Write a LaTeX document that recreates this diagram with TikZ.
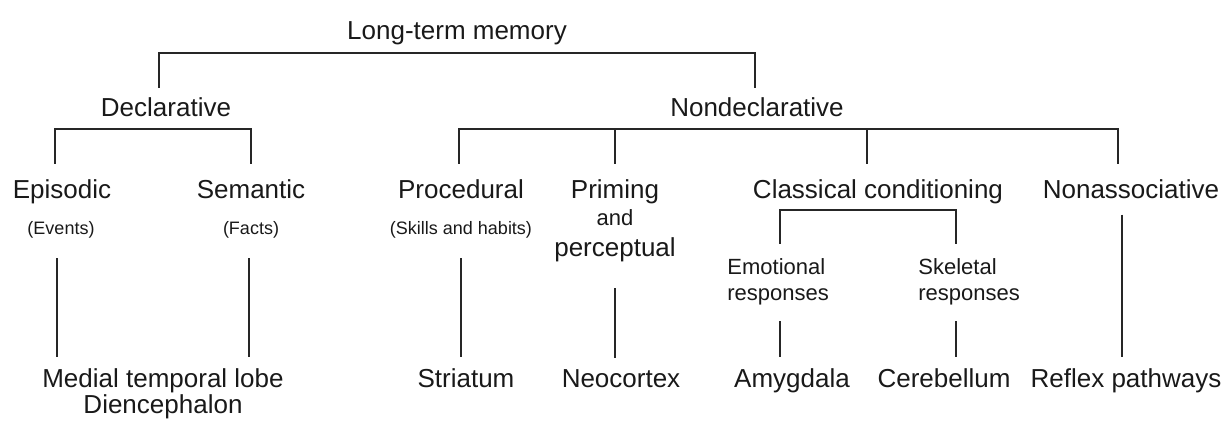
\documentclass[tikz,border=0pt]{standalone}
\usepackage{fontspec}
\setmainfont{Liberation Sans}

\begin{document}
\begin{tikzpicture}
[x=0.5pt,y=-0.5pt,%
  every node/.style={inner sep=0pt,anchor=base,text=black!90,%
    font=\fontsize{13}{13}\selectfont},%
  note/.style={font=\fontsize{9}{11}\selectfont},%
  sub/.style={align=left,anchor=base west,font=\fontsize{11}{13}\selectfont},%
  link/.style={draw=black!85,line width=1pt}]
\useasboundingbox (0,0) rectangle (1228,420);
\node (ltm) at (457,39) {Long-term memory};
\node (decl) at (166,116) {Declarative};
\node (nondecl) at (757,116) {Nondeclarative};
\node (episodic) at (62,198) {Episodic};
\node (semantic) at (251,198) {Semantic};
\node (procedural) at (461,198) {Procedural};
\node[align=center,font=\fontsize{13}{13.5}\selectfont] (priming) at (615,256)
  {Priming\\{\fontsize{11}{13.5}\selectfont and}\\[2pt]perceptual};
\node (classical) at (878,198) {Classical conditioning};
\node (nonassoc) at (1131,198) {Nonassociative};
\node[note] (events) at (61,234) {(Events)};
\node[note] (facts) at (251,234) {(Facts)};
\node[note] (skills) at (461,234) {(Skills and habits)};
\node[sub] (emotional) at (727,300) {Emotional\\responses};
\node[sub] (skeletal) at (918,300) {Skeletal\\responses};
\node[align=center] (mtl) at (163,413) {Medial temporal lobe\\Diencephalon};
\node (striatum) at (466,387) {Striatum};
\node (neocortex) at (621,387) {Neocortex};
\node (amygdala) at (792,387) {Amygdala};
\node (cerebellum) at (944,387) {Cerebellum};
\node (reflex) at (1126,387) {Reflex pathways};

\draw[link] ([xshift=-3.75pt,yshift=4.5pt]decl.north) |- ([yshift=-4.25pt]ltm.south)
  -| ([xshift=-1pt,yshift=4.5pt]nondecl.north);
\draw[link] ([xshift=-3.5pt,yshift=7.5pt]episodic.north) |- ([yshift=-6pt]decl.south)
  -| ([yshift=7.5pt]semantic.north);
\draw[link] ([xshift=-1.25pt,yshift=7.5pt]procedural.north) |- ([yshift=-6pt]nondecl.south)
  -| ([xshift=-6.5pt,yshift=7.5pt]nonassoc.north);
\draw[link] ([yshift=7.5pt]priming.north) -- ([yshift=-6pt]priming.north |- nondecl.south);
\draw[link] ([xshift=-5.5pt,yshift=7.5pt]classical.north)
  -- ([xshift=-5.5pt,yshift=-6pt]classical.north |- nondecl.south);
\draw[link] ([xshift=0.75pt,yshift=7pt]emotional.north) |- ([yshift=-3.25pt]classical.south)
  -| ([xshift=-6.35pt,yshift=7pt]skeletal.north);

\draw[link] ([xshift=-2pt,yshift=-10pt]events.south) -- ([xshift=-2pt,yshift=5.5pt]events.south |- mtl.north);
\draw[link] ([xshift=-1pt,yshift=-10pt]facts.south) -- ([xshift=-1pt,yshift=5.5pt]facts.south |- mtl.north);
\draw[link] ([yshift=-10pt]skills.south) -- ([yshift=5.5pt]skills.south |- striatum.north);
\draw[link] ([yshift=-13.25pt]priming.south) -- ([yshift=5.5pt]priming.south |- neocortex.north);
\draw[link] ([xshift=0.75pt,yshift=-8.2pt]emotional.south) -- ([xshift=0.75pt,yshift=5.5pt]emotional.south |- amygdala.north);
\draw[link] ([xshift=-6.35pt,yshift=-8.2pt]skeletal.south) -- ([xshift=-6.35pt,yshift=5.5pt]skeletal.south |- cerebellum.north);
\draw[link] ([xshift=-4.5pt,yshift=-8pt]nonassoc.south) -- ([xshift=-4.5pt,yshift=5.5pt]nonassoc.south |- reflex.north);
\end{tikzpicture}
\end{document}
